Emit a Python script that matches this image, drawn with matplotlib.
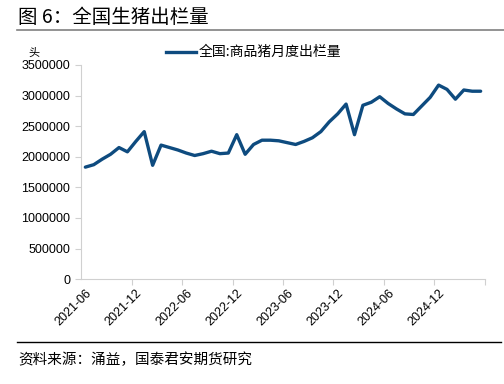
import numpy as np
import matplotlib.pyplot as plt
from matplotlib.lines import Line2D

plt.rcParams['font.family'] = ['Liberation Sans', 'Noto Sans CJK SC', 'DejaVu Sans']

# monthly national hog slaughter, 2021-06 .. 2025-05 (head)
values = [1830000, 1870000, 1960000, 2040000, 2150000, 2080000, 2250000, 2410000,
          1860000, 2190000, 2150000, 2110000, 2060000, 2020000, 2050000, 2090000,
          2050000, 2060000, 2360000, 2040000, 2200000, 2270000, 2270000, 2260000,
          2230000, 2200000, 2250000, 2310000, 2410000, 2570000, 2700000, 2860000,
          2360000, 2840000, 2890000, 2980000, 2870000, 2780000, 2700000, 2690000,
          2830000, 2970000, 3170000, 3100000, 2940000, 3090000, 3070000, 3070000]
tick_labels = ['2021-06', '2021-12', '2022-06', '2022-12', '2023-06',
               '2023-12', '2024-06', '2024-12']
yticks = [0, 500000, 1000000, 1500000, 2000000, 2500000, 3000000, 3500000]

title = '图 6：全国生猪出栏量'
series_name = '全国:商品猪月度出栏量'
unit = '头'
source = '资料来源：涌益，国泰君安期货研究'

line_color = '#0E4B7F'
cjk = ['Noto Sans CJK SC', 'DejaVu Sans']

fig = plt.figure(figsize=(5.04, 3.84), dpi=100)
ax = fig.add_axes([0.161, 0.273, 0.801, 0.558])

x = np.arange(len(values))
ax.plot(x, values, color=line_color, lw=2.4, solid_joinstyle='round',
        solid_capstyle='round')

ax.set_xlim(-0.5, len(values) - 0.5)
ax.set_ylim(0, 3500000)
ax.set_yticks(yticks)
ax.set_yticklabels([str(v) for v in yticks])
ax.set_xticks(np.arange(0, len(values), 6))
ax.set_xticklabels(tick_labels, rotation=45, ha='right', va='top',
                   rotation_mode='anchor')
ax.set_xticks(np.arange(5.5, len(values), 6), minor=True)
ax.tick_params(axis='x', which='major', length=0, labelsize=9, pad=6)
ax.tick_params(axis='x', which='minor', length=4, color='#d0d0d0', width=0.8)
ax.tick_params(axis='y', length=4, color='#d0d0d0', width=0.8, labelsize=9, pad=4)

for s in ['top', 'right']:
    ax.spines[s].set_visible(False)
for s in ['left', 'bottom']:
    ax.spines[s].set_color('#d0d0d0')
    ax.spines[s].set_linewidth(0.8)

# title and rules
fig.text(0.036, 0.955, title, fontsize=14, family=cjk, va='center', ha='left')
fig.add_artist(Line2D([0.034, 1.0], [0.921, 0.921], color='#808080', lw=1.2))
fig.add_artist(Line2D([0.034, 0.995], [0.109, 0.109], color='black', lw=1.0))
fig.text(0.036, 0.062, source, fontsize=10.5, family=cjk, va='center', ha='left')

# unit + legend
fig.text(0.056, 0.863, unit, fontsize=8, family=cjk, va='center', ha='left')
fig.add_artist(Line2D([0.330, 0.389], [0.864, 0.864], color=line_color, lw=2.4))
fig.text(0.394, 0.864, series_name, fontsize=10, family=cjk, va='center', ha='left')

fig.savefig('out.png', dpi=100)
